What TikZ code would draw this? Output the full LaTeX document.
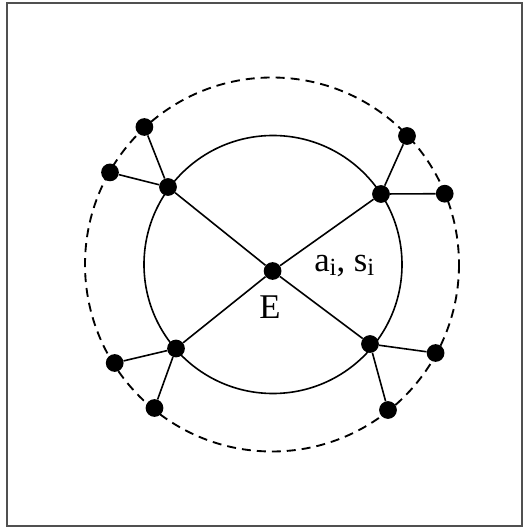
\documentclass[tikz,border=0pt]{standalone}
\usepackage{fontspec}
\setmainfont{Liberation Serif}
\definecolor{frameg}{RGB}{80,80,80}
\newcommand{\mysub}[1]{\raisebox{-2.8pt}{\fontsize{18.5}{21}\selectfont #1}}
\begin{document}
\begin{tikzpicture}[x=0.75pt,y=-0.75pt,
  dot/.style={circle,fill=black,inner sep=0pt,minimum size=13.3pt},
  edge/.style={line width=1.2pt},
  lbl/.style={inner sep=0pt,font=\fontsize{26}{30}\selectfont}]
\useasboundingbox (0,0) rectangle (529,527);
\draw[frameg,line width=0.8pt] (7,3) rectangle (522,526);
% circles
\draw[line width=1.2pt] (273,264.5) circle[radius=129];
\draw[line width=1.4pt,dash pattern=on 6.75pt off 4.5pt] (272,264.5) circle[radius=187];
% nodes
\node[dot] (E) at (272.6,271) {};
\node[dot] (ul) at (168,187) {};
\node[dot] (ur) at (381,194) {};
\node[dot] (ll) at (176,348.5) {};
\node[dot] (lr) at (370,344) {};
\node[dot] (ul1) at (144.4,127) {};
\node[dot] (ul2) at (110,172.4) {};
\node[dot] (ur1) at (407,136) {};
\node[dot] (ur2) at (444.7,193.7) {};
\node[dot] (ll1) at (114.7,363) {};
\node[dot] (ll2) at (154.5,408) {};
\node[dot] (lr1) at (435.6,353) {};
\node[dot] (lr2) at (388,410) {};
% edges
\draw[edge] (E) -- (ul);
\draw[edge] (E) -- (ur);
\draw[edge] (E) -- (ll);
\draw[edge] (E) -- (lr);
\draw[edge] (ul) -- (ul1);
\draw[edge] (ul) -- (ul2);
\draw[edge] (ur) -- (ur1);
\draw[edge] (ur) -- (ur2);
\draw[edge] (ll) -- (ll1);
\draw[edge] (ll) -- (ll2);
\draw[edge] (lr) -- (lr1);
\draw[edge] (lr) -- (lr2);
% labels
\node[lbl,anchor=base west] (as) at (314,271.6) {a\mysub{i}, s\mysub{i}};
\node[lbl,anchor=base] (Elbl) at (270,319) {E};
\end{tikzpicture}
\end{document}
